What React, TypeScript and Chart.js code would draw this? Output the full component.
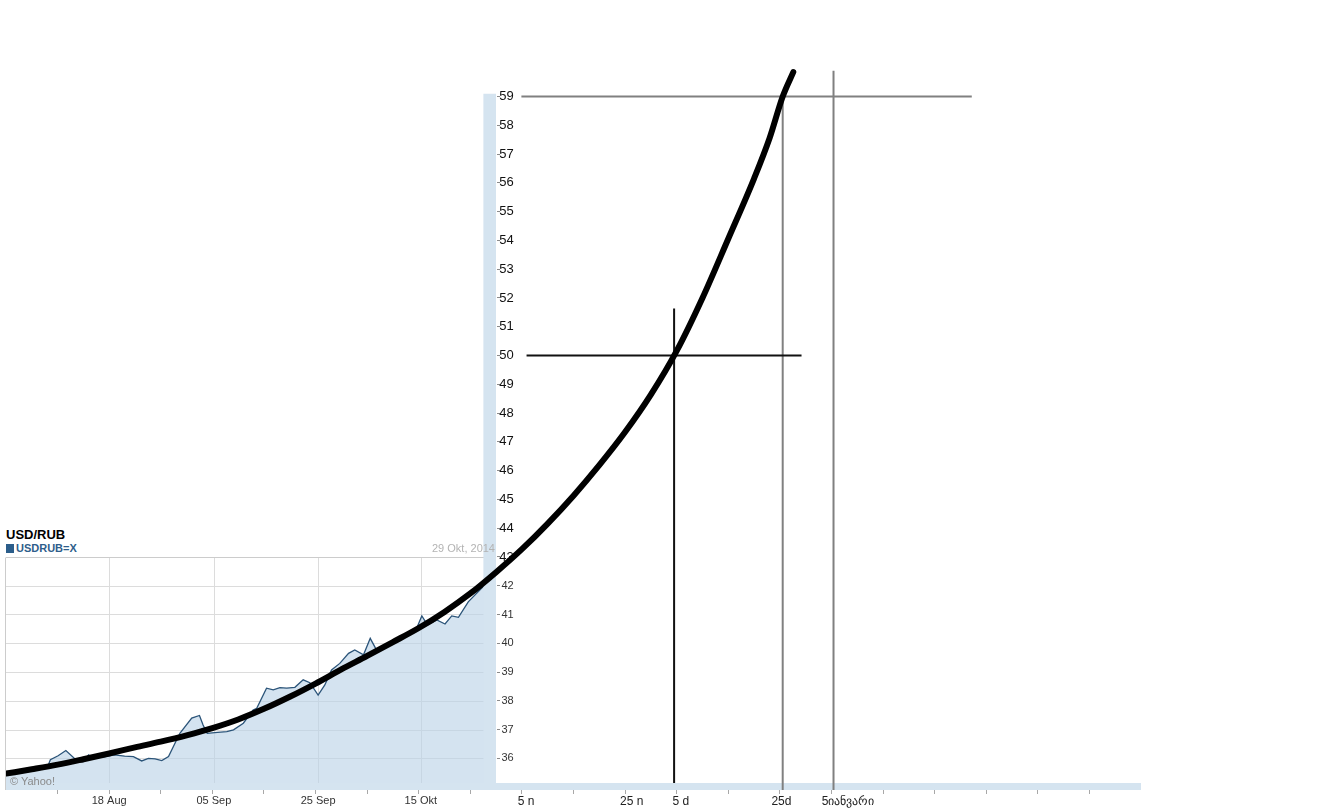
import { useEffect, useRef } from 'react';
import { Chart, registerables } from 'chart.js';

Chart.register(...registerables);

const FONT = "'Liberation Sans', Arial, Helvetica, sans-serif";

// x = days (one tick mark every 10 days), y = RUB per USD
const X_MIN = -10;
const X_MAX = 210;
const Y_MIN = 34.9;
const Y_MAX = 61;

const Y_TICKS = [36, 37, 38, 39, 40, 41, 42, 43, 44, 45, 46, 47, 48, 49, 50, 51, 52, 53, 54, 55, 56, 57, 58, 59];
const YAHOO_Y_TICKS = [36, 37, 38, 39, 40, 41, 42];
const X_MINOR_TICKS = [0, 10, 20, 30, 40, 50, 60, 70, 80, 90, 100, 110, 120, 130, 140, 150, 160, 170, 180, 190, 200];
const X_LABEL_DAYS = [10, 30.3, 50.5, 70.4, 90.8, 111.3, 120.8, 140.3, 153.2];
const X_LABELS = ['18 Aug', '05 Sep', '25 Sep', '15 Okt', '5 n', '25 n', '5 d', '25d', '5იანვარი'];
const YAHOO_LABEL_COUNT = 4;

// Yahoo USDRUB=X close
const YAHOO_DAYS = [-10, -7.5, -5, -2.8, -1.8, -1.4, 0.1, 1.6, 3.8, 5, 6, 6.9, 9, 11, 13, 14.7, 16.3, 17.6, 18.9, 20.2, 21.5, 23.7, 26, 27.5, 28.2, 29, 31, 32.8, 34.1, 36, 37.9, 38.6, 40.5, 41.8, 43.1, 44.4, 46, 47.6, 48.9, 50.5, 51.8, 53.1, 54.7, 56.4, 57.6, 59.3, 60.6, 61.8, 63.6, 65.6, 67.7, 68.6, 69.6, 70.6, 71.7, 73.5, 75.1, 76.4, 77.7, 79.6, 82.5, 84.5];
const YAHOO_VALUES = [35.5, 35.55, 35.6, 35.68, 35.77, 35.95, 36.09, 36.27, 35.91, 35.89, 36.12, 36.0, 36.05, 36.12, 36.08, 36.06, 35.91, 36.0, 35.98, 35.92, 36.06, 36.87, 37.4, 37.49, 37.16, 36.87, 36.9, 36.93, 36.99, 37.22, 37.68, 37.74, 38.44, 38.38, 38.46, 38.44, 38.47, 38.73, 38.63, 38.2, 38.55, 39.07, 39.3, 39.65, 39.77, 39.6, 40.17, 39.77, 39.9, 40.1, 40.29, 40.46, 40.52, 40.95, 40.64, 40.81, 40.67, 40.95, 40.9, 41.44, 41.97, 42.26];

// hand-drawn extrapolation curve
const TREND_DAYS = [-10, -5, 0, 5, 10, 15, 20, 25, 30, 35, 40, 45, 50, 55, 60, 65, 70, 75, 80, 85, 90, 95, 100, 105, 110, 115, 120, 125, 130, 135, 138, 140.55, 142.6];
const TREND_VALUES = [35.47, 35.62, 35.78, 35.97, 36.17, 36.38, 36.58, 36.8, 37.05, 37.35, 37.72, 38.14, 38.6, 39.09, 39.56, 40.04, 40.53, 41.09, 41.73, 42.47, 43.27, 44.16, 45.13, 46.19, 47.34, 48.64, 50.16, 52.0, 54.06, 56.15, 57.55, 59.0, 59.85];

// guide lines
const CROSS_DAY = 119.5;
const CROSS_VALUE = 50;
const CROSS_V_TOP = 51.63;
const CROSS_H_RANGE = [90.9, 144.2];
const GUIDE_H_VALUE = 59;
const GUIDE_H_RANGE = [89.9, 177.2];
const GUIDE_V_DAYS = [140.55, 150.4];
const GUIDE_V_TOPS = [59, 59.9];

// panel geometry in data units
const PANEL_END_DAY = 85;
const PANEL_TOP_VALUE = 43;
const STRIP_DAYS = [82.5, 85];
const STRIP_TOP = 59.1;
const BAND_TOP = 35.14;
const LABEL_AXIS_DAY = 88.4;
const TICK_AXIS_DAY = 85.7;

const LIGHT_BLUE = 'rgb(213,228,240)';

export default function App() {
  const ref = useRef<HTMLCanvasElement | null>(null);

  useEffect(() => {
    const canvas = ref.current;
    if (!canvas) return;
    const pts = (xs: number[], ys: number[]) => xs.map((x, i) => ({ x, y: ys[i] }));
    const xTicks = Array.from(new Set([...X_MINOR_TICKS, ...X_LABEL_DAYS])).sort((a, b) => a - b);

    const panelPlugin = {
      id: 'yahooPanel',
      beforeDatasetsDraw(chart: any) {
        const { ctx } = chart;
        const x = chart.scales.x;
        const y = chart.scales.y;
        const l = x.getPixelForValue(X_MIN);
        const r = x.getPixelForValue(PANEL_END_DAY);
        const t = Math.round(y.getPixelForValue(PANEL_TOP_VALUE)) + 0.5;
        const b = y.getPixelForValue(Y_MIN);
        ctx.save();
        ctx.lineWidth = 1;
        ctx.strokeStyle = '#dcdcdc';
        ctx.beginPath();
        YAHOO_Y_TICKS.forEach((v) => {
          const py = Math.round(y.getPixelForValue(v)) + 0.5;
          ctx.moveTo(l, py);
          ctx.lineTo(r, py);
        });
        X_LABEL_DAYS.slice(0, YAHOO_LABEL_COUNT).forEach((d) => {
          const px = Math.round(x.getPixelForValue(d)) + 0.5;
          ctx.moveTo(px, t);
          ctx.lineTo(px, b);
        });
        ctx.stroke();
        ctx.strokeStyle = '#cccccc';
        ctx.beginPath();
        ctx.moveTo(l, t);
        ctx.lineTo(r, t);
        const lx = Math.round(l) - 0.5;
        ctx.moveTo(lx, t);
        ctx.lineTo(lx, b);
        ctx.stroke();
        ctx.restore();
      },
    };

    const seg = (data: any[], color: string, width: number) => ({
      data,
      borderColor: color,
      borderWidth: width,
      pointRadius: 0,
      tension: 0,
      fill: false,
      yAxisID: 'y',
    });

    const chart = new Chart(canvas, {
      type: 'line',
      data: {
        datasets: [
          {
            data: pts(TREND_DAYS, TREND_VALUES),
            borderColor: '#000',
            borderWidth: 6,
            pointRadius: 0,
            cubicInterpolationMode: 'monotone',
            borderCapStyle: 'round',
            borderJoinStyle: 'round',
            fill: false,
            yAxisID: 'y',
          } as any,
          seg([{ x: CROSS_DAY, y: CROSS_V_TOP }, { x: CROSS_DAY, y: BAND_TOP }], '#111', 2),
          seg([{ x: CROSS_H_RANGE[0], y: CROSS_VALUE }, { x: CROSS_H_RANGE[1], y: CROSS_VALUE }], '#111', 2),
          seg([{ x: GUIDE_H_RANGE[0], y: GUIDE_H_VALUE }, { x: GUIDE_H_RANGE[1], y: GUIDE_H_VALUE }], '#808080', 2),
          ...GUIDE_V_DAYS.map((d, i) => seg([{ x: d, y: GUIDE_V_TOPS[i] }, { x: d, y: Y_MIN }], '#808080', 2)),
          {
            data: pts(STRIP_DAYS, [STRIP_TOP, STRIP_TOP]),
            borderColor: 'rgba(0,0,0,0)',
            borderWidth: 0,
            pointRadius: 0,
            fill: 'start',
            backgroundColor: LIGHT_BLUE,
            yAxisID: 'y',
          } as any,
          {
            data: pts([X_MIN, X_MAX], [BAND_TOP, BAND_TOP]),
            borderColor: 'rgba(0,0,0,0)',
            borderWidth: 0,
            pointRadius: 0,
            fill: 'start',
            backgroundColor: LIGHT_BLUE,
            yAxisID: 'y',
          } as any,
          {
            data: pts(YAHOO_DAYS, YAHOO_VALUES),
            borderColor: '#2b5479',
            borderWidth: 1.3,
            pointRadius: 0,
            tension: 0,
            fill: 'start',
            backgroundColor: 'rgba(185,210,230,0.62)',
            yAxisID: 'y',
          } as any,
        ],
      },
      options: {
        animation: false,
        responsive: false,
        devicePixelRatio: 1,
        events: [],
        layout: { padding: { left: 6, right: 185, top: 39, bottom: 0 } },
        plugins: { legend: { display: false }, tooltip: { enabled: false }, title: { display: false } },
        scales: {
          x: {
            type: 'linear',
            position: 'bottom',
            min: X_MIN,
            max: X_MAX,
            bounds: 'data',
            afterBuildTicks: (s: any) => {
              s.ticks = xTicks.map((v) => ({ value: v }));
            },
            afterFit: (s: any) => {
              s.height = 19;
            },
            border: { display: false },
            grid: {
              drawOnChartArea: false,
              drawTicks: true,
              tickLength: 4,
              tickColor: (c: any) => (c.tick && X_MINOR_TICKS.includes(c.tick.value) ? '#a8a8a8' : 'rgba(0,0,0,0)'),
            },
            ticks: {
              autoSkip: false,
              maxRotation: 0,
              minRotation: 0,
              padding: 0,
              callback: (v: any) => {
                const i = X_LABEL_DAYS.indexOf(Number(v));
                return i >= 0 ? X_LABELS[i] : '';
              },
              font: (c: any) => ({ family: FONT, size: c.tick && c.tick.value < PANEL_END_DAY ? 11 : 12 }),
              color: (c: any) => (c.tick && c.tick.value < PANEL_END_DAY ? '#333' : '#222'),
            },
          },
          y: {
            type: 'linear',
            min: Y_MIN,
            max: Y_MAX,
            bounds: 'data',
            position: { x: LABEL_AXIS_DAY } as any,
            afterBuildTicks: (s: any) => {
              s.ticks = Y_TICKS.map((v) => ({ value: v }));
            },
            border: { display: false },
            grid: { display: false, drawTicks: false },
            ticks: {
              padding: 0,
              font: (c: any) => ({ family: FONT, size: c.tick && c.tick.value <= 42 ? 11 : 13 }),
              color: (c: any) => (c.tick && c.tick.value <= 42 ? '#333' : '#111'),
            },
          },
          yTicks: {
            type: 'linear',
            axis: 'y',
            min: Y_MIN,
            max: Y_MAX,
            bounds: 'data',
            position: { x: TICK_AXIS_DAY } as any,
            afterBuildTicks: (s: any) => {
              s.ticks = Y_TICKS.map((v) => ({ value: v }));
            },
            border: { display: false },
            grid: { display: true, drawOnChartArea: false, drawTicks: true, tickLength: 3, tickColor: '#8a8a8a' },
            ticks: { display: false },
          },
        } as any,
      },
      plugins: [panelPlugin],
    } as any);

    return () => chart.destroy();
  }, []);

  const txt = (extra: any) => ({ position: 'absolute', fontFamily: FONT, lineHeight: 1, whiteSpace: 'nowrap', ...extra });

  return (
    <div style={{ position: 'fixed', left: 0, top: 0, width: 1326, height: 809, background: '#fff', overflow: 'hidden' }}>
      <div style={txt({ left: 6, top: 528, fontSize: 13, fontWeight: 'bold', color: '#000' })}>USD/RUB</div>
      <div style={{ position: 'absolute', left: 6, top: 544, width: 8, height: 9, background: '#2b5d8a' }} />
      <div style={txt({ left: 16, top: 543, fontSize: 11, fontWeight: 'bold', color: '#2e5e8b' })}>USDRUB=X</div>
      <canvas ref={ref} width={1326} height={809} style={{ position: 'absolute', left: 0, top: 0, width: 1326, height: 809 }} />
      <div style={txt({ left: 432, top: 543, fontSize: 11, color: '#b3b3b3' })}>29 Okt, 2014</div>
      <div style={txt({ left: 10, top: 776, fontSize: 11, color: '#8a8a8a' })}>© Yahoo!</div>
    </div>
  );
}
